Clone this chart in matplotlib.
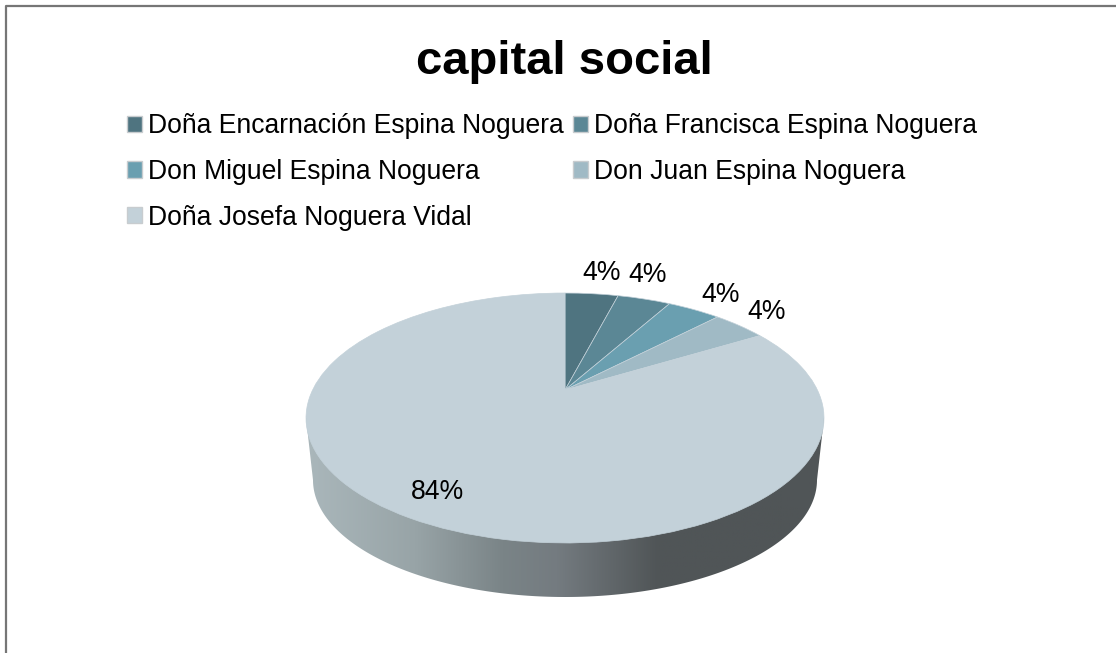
import numpy as np
import matplotlib
matplotlib.use('Agg')
import matplotlib.pyplot as plt
from matplotlib.colors import LinearSegmentedColormap
from matplotlib.patches import Polygon
from matplotlib.transforms import Transform

plt.rcParams['font.family'] = ['Liberation Sans', 'DejaVu Sans']

names = ['Doña Encarnación Espina Noguera', 'Doña Francisca Espina Noguera',
         'Don Miguel Espina Noguera', 'Don Juan Espina Noguera',
         'Doña Josefa Noguera Vidal']
shares = [4.12, 4.12, 4.12, 4.12, 83.52]
colors = ['#4f7480', '#5b8795', '#6a9fb0', '#a0bac5', '#c3d1d9']
side_stops = ['#aab7bb', '#98a4a7', '#7a8487', '#747b80', '#505557', '#505557']
side_pos = [0.0, 0.21, 0.38, 0.485, 0.68, 1.0]

W, H = 1116, 653


class TiltTransform(Transform):
    # projects the unit circle of the pie onto the tilted disc, in pixels
    input_dims = 2
    output_dims = 2
    k = 0.224

    def transform_non_affine(self, values):
        u, v = values[:, 0], values[:, 1]
        w = 1 + self.k * v
        return np.column_stack([565 + 252.4 * u / w, 390 - 118.7 * v / w])


fig = plt.figure(figsize=(W / 100, H / 100), dpi=100, facecolor='white')
ax = fig.add_axes([0, 0, 1, 1])

wedges, _ = ax.pie(shares, colors=colors, startangle=90, counterclock=False,
                   wedgeprops={'edgecolor': '#c3d1d9', 'linewidth': 0.5, 'zorder': 3})
tilt = TiltTransform()
for w in wedges:
    w.set_transform(tilt + ax.transData)

ax.set_aspect('auto')
ax.set_xlim(0, W)
ax.set_ylim(H, 0)
ax.axis('off')

# chart frame, open on the right and bottom where the picture is cut
ax.plot([5.5, 5.5, W], [H, 5.5, 5.5], color='#767676', lw=1.6, zorder=1)

ax.text(564, 62, 'capital social', ha='center', va='center',
        fontsize=34, fontweight='bold', color='black')

# side wall of the 3D pie, gradient clipped to the rim
t = np.linspace(np.pi, 0, 200)
rim_x = np.concatenate([[306], 565 + 252 * np.cos(t), [824]])
rim_y = np.concatenate([[418], 480 + 117 * np.sin(t), [418]])
rim = Polygon(np.column_stack([rim_x, rim_y]), closed=True, facecolor='none', edgecolor='none')
ax.add_patch(rim)
cmap = LinearSegmentedColormap.from_list('side', list(zip(side_pos, side_stops)))
grad = np.linspace(0, 1, 256).reshape(1, -1)
img = ax.imshow(grad, cmap=cmap, extent=(306, 824, 597, 418), aspect='auto', zorder=1)
img.set_clip_path(rim)
ax.set_xlim(0, W)
ax.set_ylim(H, 0)

# data labels
label_px = [(602, 273), (648, 275), (721, 295), (767, 312), (437, 492)]
for s, (x, y) in zip(shares, label_px):
    ax.text(x, y, f'{s:.0f}%', ha='center', va='center', fontsize=19.2, color='black', zorder=5)

# legend fills by column, so rows are reordered
order = [0, 2, 4, 1, 3]
leg = fig.legend([wedges[i] for i in order], [names[i] for i in order], ncol=2,
                 loc='upper left', bbox_to_anchor=(127 / W, 1 - 113 / H), frameon=False,
                 fontsize=19.1, handlelength=0.56, handleheight=0.56, handletextpad=0.22,
                 columnspacing=0.36, labelspacing=0.75, borderpad=0, borderaxespad=0)
for h in leg.legend_handles:
    h.set_edgecolor('#c8cccf')
    h.set_linewidth(1.0)

fig.savefig('out.png', dpi=100)
